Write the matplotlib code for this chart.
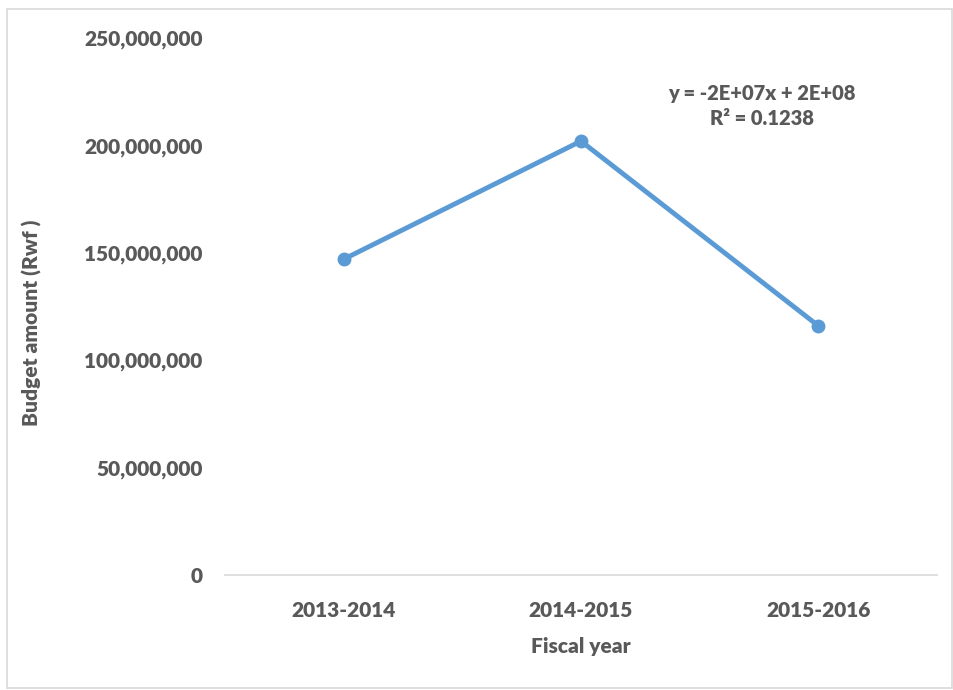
import matplotlib

matplotlib.use("Agg")
import matplotlib.pyplot as plt
from matplotlib.patches import Rectangle
from matplotlib.ticker import FuncFormatter

years = ["2013-2014", "2014-2015", "2015-2016"]
budget = [147_000_000, 202_000_000, 116_000_000]
trend_label = "y = -2E+07x + 2E+08\nR² = 0.1238"

grey = "#595959"
blue = "#5B9BD5"
plt.rcParams["font.family"] = ["Lato", "DejaVu Sans"]
plt.rcParams["font.weight"] = 800

fig = plt.figure(figsize=(9.54, 6.90), dpi=100)
ax = fig.add_axes([0.2358, 0.1667, 0.7464, 0.7782])

x = list(range(len(years)))
ax.plot(x, budget, color=blue, linewidth=3.5, marker="o", markersize=9,
        solid_capstyle="round")

ax.set_xlim(-0.5, 2.5)
ax.set_ylim(0, 250_000_000)
ax.set_yticks(range(0, 250_000_001, 50_000_000))
ax.yaxis.set_major_formatter(FuncFormatter(lambda v, p: f"{int(v):,}"))
ax.set_xticks(x)
ax.set_xticklabels(years)

for side in ["top", "right", "left"]:
    ax.spines[side].set_visible(False)
ax.spines["bottom"].set_color("#D9D9D9")
ax.spines["bottom"].set_linewidth(1.2)
ax.tick_params(length=0, labelsize=15, colors=grey, labelcolor=grey)
ax.tick_params(axis="y", pad=16)
ax.tick_params(axis="x", pad=19)
for lbl in ax.get_xticklabels() + ax.get_yticklabels():
    lbl.set_fontweight(800)

ax.set_xlabel("Fiscal year", fontsize=15, color=grey, fontweight=800, labelpad=12)
ax.set_ylabel("Budget amount (Rwf )", fontsize=15, color=grey, fontweight=800)
ax.yaxis.set_label_coords(-0.257, 0.47)

fig.text(762 / 954, 1 - 106 / 690, trend_label, ha="center", va="center",
         fontsize=14.5, color=grey, fontweight=800, linespacing=1.35)

fig.patches.append(Rectangle((7 / 954, 2 / 690), 945 / 954, 679 / 690,
                             transform=fig.transFigure, fill=False,
                             edgecolor="#D9D9D9", linewidth=1.2))

fig.savefig("out.png", dpi=100)
